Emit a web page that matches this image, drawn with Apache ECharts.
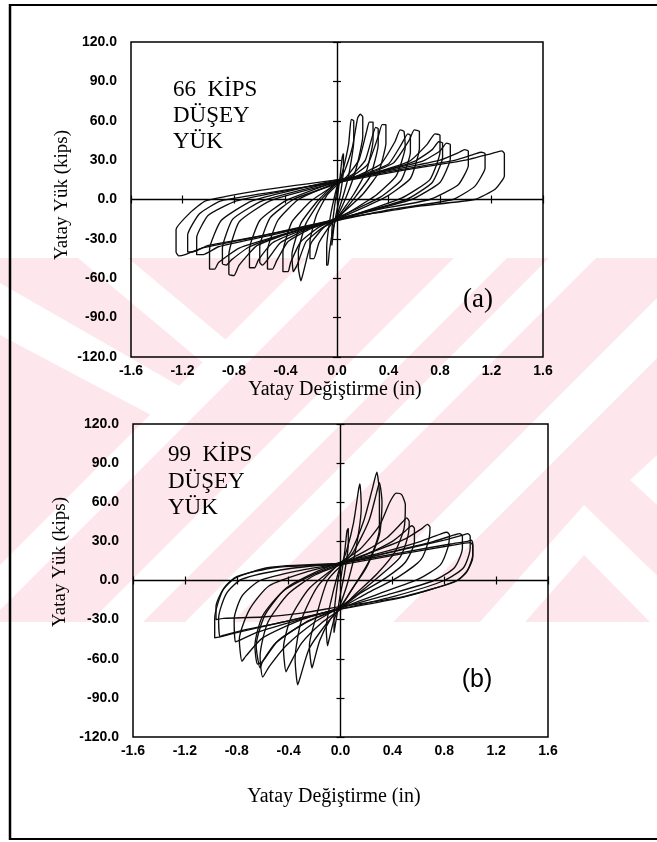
<!DOCTYPE html>
<html>
<head>
<meta charset="utf-8">
<script src="https://cdn.jsdelivr.net/npm/echarts@6/dist/echarts.min.js"></script>
<style>
  html, body { margin: 0; padding: 0; background: #fff; }
  #chart { width: 657px; height: 842px; }
</style>
</head>
<body>
<div id="chart"></div>
<script>
// Axis ranges shared by both panels
const xRange = [-1.6, 1.6];
const xStep = 0.4;
const yRange = [-120, 120];
const yStep = 30;

// Panel (a): 66 kips vertical load — one array per load cycle, [displacement (in), load (kips)]
const a66_c1 = [[0,0],[0.02,14],[0.04,32],[0.05,35],[0.05,24],[0.03,6],[0,-8],[-0.02,-18],[-0.04,-35],[-0.04,-24],[-0.02,-6],[0,8]];
const a66_c2 = [[0,8],[0.04,20],[0.09,42],[0.11,61],[0.13,60],[0.13,44],[0.09,18],[0.04,0],[0,-12],[-0.03,-22],[-0.06,-40],[-0.07,-50],[-0.08,-50],[-0.08,-36],[-0.05,-12],[-0.02,2],[0,10]];
const a66_c3 = [[0,10],[0.06,22],[0.12,40],[0.16,62],[0.18,65],[0.2,63],[0.2,48],[0.15,24],[0.08,4],[0,-13],[-0.07,-22],[-0.14,-33],[-0.18,-45],[-0.21,-45],[-0.21,-32],[-0.16,-12],[-0.08,3],[0,11]];
const a66_c4 = [[0,11],[0.08,18],[0.17,30],[0.23,52],[0.25,59],[0.28,59],[0.28,45],[0.23,22],[0.13,4],[0,-14],[-0.1,-21],[-0.2,-33],[-0.26,-55],[-0.28,-62],[-0.3,-52],[-0.3,-40],[-0.24,-18],[-0.13,-1],[0,13]];
const a66_c5 = [[0,13],[0.12,19],[0.22,30],[0.28,50],[0.3,55],[0.32,54],[0.32,42],[0.26,18],[0.15,3],[0,-15],[-0.12,-22],[-0.24,-32],[-0.31,-50],[-0.34,-55],[-0.35,-42],[-0.28,-18],[-0.15,-1],[0,14]];
const a66_c6 = [[0,12],[0.12,18],[0.24,27],[0.32,48],[0.35,57],[0.38,57],[0.38,43],[0.32,20],[0.2,4],[0,-14],[-0.14,-21],[-0.28,-32],[-0.36,-48],[-0.38,-55],[-0.42,-55],[-0.42,-40],[-0.35,-17],[-0.2,-1],[0,12]];
const a66_c7 = [[0,12],[0.18,19],[0.34,27],[0.45,44],[0.49,53],[0.52,52],[0.53,40],[0.46,18],[0.3,3],[0,-15],[-0.2,-22],[-0.38,-32],[-0.47,-47],[-0.5,-53],[-0.54,-53],[-0.54,-39],[-0.46,-16],[-0.3,0],[0,13]];
const a66_c8 = [[0,13],[0.2,19],[0.4,27],[0.5,42],[0.55,50],[0.57,49],[0.57,36],[0.5,15],[0.34,2],[0,-14],[-0.24,-23],[-0.44,-33],[-0.54,-46],[-0.58,-50],[-0.6,-48],[-0.6,-36],[-0.52,-14],[-0.34,0],[0,12]];
const a66_c9 = [[0,13],[0.22,19],[0.44,28],[0.56,45],[0.6,53],[0.64,52],[0.64,39],[0.57,16],[0.38,2],[0,-15],[-0.26,-23],[-0.5,-33],[-0.61,-46],[-0.64,-52],[-0.68,-52],[-0.68,-38],[-0.6,-16],[-0.4,-1],[0,14]];
const a66_c10 = [[0,14],[0.28,20],[0.56,29],[0.7,42],[0.76,50],[0.8,49],[0.8,36],[0.72,15],[0.5,1],[0,-16],[-0.32,-24],[-0.62,-35],[-0.76,-50],[-0.8,-58],[-0.84,-57],[-0.84,-42],[-0.76,-17],[-0.52,-1],[0,13]];
const a66_c11 = [[0,13],[0.3,20],[0.6,29],[0.74,38],[0.79,44],[0.82,43],[0.82,32],[0.74,13],[0.54,0],[0,-15],[-0.36,-25],[-0.68,-36],[-0.82,-46],[-0.86,-50],[-0.89,-49],[-0.89,-37],[-0.81,-15],[-0.58,-1],[0,14]];
const a66_c12 = [[0,14],[0.32,21],[0.66,29],[0.8,37],[0.85,43],[0.88,42],[0.88,31],[0.8,13],[0.58,0],[0,-15],[-0.4,-26],[-0.76,-37],[-0.92,-48],[-0.95,-53],[-0.99,-53],[-0.99,-38],[-0.9,-16],[-0.66,-1],[0,15]];
const a66_c13 = [[0,15],[0.4,22],[0.8,30],[0.95,36],[0.99,38],[1.02,37],[1.02,26],[0.94,11],[0.72,0],[0.3,-8],[0,-15],[-0.5,-27],[-0.92,-36],[-1.04,-42],[-1.09,-42],[-1.09,-29],[-1.0,-12],[-0.78,-1],[0,14]];
const a66_c14 = [[0,14],[0.45,22],[0.92,30],[1.08,35],[1.12,36],[1.15,35],[1.15,24],[1.07,10],[0.9,0],[0.4,-8],[0,-16],[-0.55,-27],[-1.0,-35],[-1.12,-40],[-1.16,-40],[-1.16,-27],[-1.07,-11],[-0.9,-1],[0,13]];
const a66_c15 = [[0,13],[0.5,22],[1.0,30],[1.2,35],[1.28,37],[1.3,35],[1.3,18],[1.23,8],[1.07,0],[0.64,-5],[0.32,-10],[0,-15],[-0.6,-28],[-1.05,-37],[-1.18,-42],[-1.23,-43],[-1.25,-40],[-1.25,-23],[-1.14,-10],[-1.02,-1],[-0.6,7],[0,15]];

// Panel (b): 99 kips vertical load
const b99_c1 = [[0,0],[0.03,20],[0.05,38],[0.06,40],[0.06,28],[0.03,5],[0,-10],[-0.02,-22],[-0.05,-40],[-0.05,-28],[-0.02,0],[0,10]];
const b99_c2 = [[0,10],[0.05,24],[0.1,44],[0.14,70],[0.15,74],[0.16,56],[0.12,25],[0.06,0],[0,-18],[-0.05,-30],[-0.09,-46],[-0.1,-50],[-0.11,-36],[-0.06,-10],[-0.02,5],[0,12]];
const b99_c3 = [[0,12],[0.08,22],[0.18,46],[0.25,72],[0.28,83],[0.3,66],[0.3,40],[0.22,15],[0.1,-5],[0,-20],[-0.08,-30],[-0.16,-46],[-0.21,-64],[-0.22,-67],[-0.24,-50],[-0.18,-25],[-0.1,0],[0,11]];
const b99_c4 = [[0,11],[0.1,22],[0.22,46],[0.28,68],[0.3,75],[0.32,60],[0.3,35],[0.2,10],[0.08,-8],[0,-21],[-0.1,-32],[-0.24,-52],[-0.31,-74],[-0.33,-80],[-0.35,-60],[-0.3,-30],[-0.18,-5],[0,14]];
const b99_c5 = [[0,14],[0.15,24],[0.3,42],[0.38,60],[0.43,67],[0.47,66],[0.5,58],[0.49,40],[0.42,22],[0.28,5],[0.12,-10],[0,-22],[-0.14,-32],[-0.3,-48],[-0.4,-66],[-0.42,-70],[-0.44,-52],[-0.38,-28],[-0.24,-6],[0,13]];
const b99_c6 = [[0,13],[0.18,22],[0.36,33],[0.48,45],[0.51,48],[0.53,45],[0.52,34],[0.46,18],[0.32,5],[0.15,-9],[0,-20],[-0.2,-32],[-0.42,-50],[-0.55,-66],[-0.6,-74],[-0.62,-58],[-0.56,-32],[-0.4,-10],[-0.2,4],[0,12]];
const b99_c7 = [[0,12],[0.2,20],[0.4,30],[0.5,38],[0.55,42],[0.57,40],[0.57,30],[0.5,14],[0.35,2],[0.15,-10],[0,-21],[-0.24,-31],[-0.48,-46],[-0.6,-62],[-0.64,-64],[-0.66,-50],[-0.6,-27],[-0.44,-8],[-0.2,5],[0,13]];
const b99_c8 = [[0,13],[0.22,21],[0.5,32],[0.63,40],[0.67,43],[0.69,41],[0.68,31],[0.62,16],[0.45,3],[0.2,-10],[0,-21],[-0.25,-31],[-0.5,-48],[-0.6,-62],[-0.62,-67],[-0.65,-50],[-0.58,-26],[-0.42,-6],[-0.2,6],[0,14]];
const b99_c9 = [[0,14],[0.3,21],[0.62,30],[0.78,36],[0.82,37],[0.84,35],[0.83,26],[0.77,12],[0.6,1],[0.3,-10],[0,-21],[-0.3,-30],[-0.6,-44],[-0.73,-58],[-0.76,-62],[-0.78,-45],[-0.7,-22],[-0.55,-4],[-0.25,7],[0,13]];
const b99_c10 = [[0,13],[0.35,21],[0.72,30],[0.88,35],[0.92,36],[0.94,34],[0.94,25],[0.88,10],[0.72,0],[0.36,-11],[0,-21],[-0.35,-31],[-0.65,-40],[-0.78,-46],[-0.81,-47],[-0.82,-30],[-0.76,-12],[-0.62,0],[-0.3,8],[0,13]];
const b99_c11 = [[0,13],[0.4,22],[0.8,31],[0.95,35],[0.98,36],[1.0,34],[1.0,25],[0.95,10],[0.8,0],[0.42,-12],[0,-22],[-0.4,-31],[-0.75,-38],[-0.9,-42],[-0.93,-43],[-0.94,-29],[-0.88,-10],[-0.76,1],[-0.4,9],[0,13]];
const b99_c12 = [[0,13],[0.45,21],[0.85,28],[0.98,30],[1.01,31],[1.02,28],[1.02,20],[0.98,8],[0.9,0],[0.48,-13],[0,-22],[-0.45,-32],[-0.8,-40],[-0.92,-43],[-0.97,-44],[-0.97,-29],[-0.91,-8],[-0.81,2],[-0.55,10],[0,13]];
const b99_c13 = [[0,12],[0.45,20],[0.86,27],[1.0,29],[1.02,27],[1.02,18],[0.97,6],[0.88,-1],[0.46,-13],[0,-20],[-0.3,-25],[-0.6,-28],[-0.9,-29],[-0.96,-30],[-0.96,-20],[-0.9,-6],[-0.8,3],[-0.5,10],[0,12]];

const cyclesA = [a66_c1, a66_c2, a66_c3, a66_c4, a66_c5, a66_c6, a66_c7, a66_c8, a66_c9, a66_c10, a66_c11, a66_c12, a66_c13, a66_c14, a66_c15];
const cyclesB = [b99_c1, b99_c2, b99_c3, b99_c4, b99_c5, b99_c6, b99_c7, b99_c8, b99_c9, b99_c10, b99_c11, b99_c12, b99_c13];

// Text
const yTitle = 'Yatay Yük (kips)';
const xTitle = 'Yatay Değiştirme (in)';
const noteA = ['66  KİPS', 'DÜŞEY', 'YÜK'];
const noteB = ['99  KİPS', 'DÜŞEY', 'YÜK'];

const chart = echarts.init(document.getElementById('chart'), null, { renderer: 'canvas' });

const INK = '#0d0d0d';
const tickFont = { fontFamily: 'Liberation Sans, Arial, sans-serif', fontWeight: 'bold', fontSize: 14, color: '#000' };

function xAxisPair(gi) {
  const base = {
    gridIndex: gi, type: 'value', min: xRange[0], max: xRange[1], interval: xStep,
    axisLine: { show: false }, splitLine: { show: false },
    axisTick: { show: true, inside: true, length: 4, lineStyle: { color: '#000', width: 1.2 } }
  };
  return [
    Object.assign({}, base, { position: 'bottom', axisLabel: Object.assign({ margin: 7, formatter: v => v.toFixed(1) }, tickFont) }),
    Object.assign({}, base, { position: 'top', axisLabel: { show: false } })
  ];
}
function yAxisPair(gi) {
  const base = {
    gridIndex: gi, type: 'value', min: yRange[0], max: yRange[1], interval: yStep,
    axisLine: { show: false }, splitLine: { show: false },
    axisTick: { show: true, inside: true, length: 4, lineStyle: { color: '#000', width: 1.2 } }
  };
  return [
    Object.assign({}, base, { position: 'left', axisLabel: Object.assign({ margin: 14, formatter: v => v.toFixed(1) }, tickFont) }),
    Object.assign({}, base, { position: 'right', axisLabel: { show: false } })
  ];
}

function loopSeries(cycles, axisIdx, smooth) {
  return cycles.map((d, i) => {
    const s = {
      type: 'line', data: d, xAxisIndex: axisIdx, yAxisIndex: axisIdx,
      symbol: 'none', smooth: smooth, silent: true, animation: false,
      lineStyle: { color: INK, width: 1.35 }, z: 3
    };
    if (i === 0) {
      s.markLine = {
        silent: true, symbol: 'none', animation: false,
        label: { show: false },
        lineStyle: { color: '#000', width: 1.4, type: 'solid' },
        data: [{ xAxis: 0 }, { yAxis: 0 }]
      };
    }
    return s;
  });
}

// Faint pink diagonal watermark band behind the page
const PINK = '#fde7ec';
const band = { y0: 258, y1: 622 };
const whiteStripes = [
  [[78,258],[128,258],[250,360],[226,382]],
  [[0,283],[0,335],[170,425],[195,395]],
  [[307,258],[352,258],[-12,622],[-57,622]],
  [[454,258],[507,258],[143,622],[90,622]],
  [[549,258],[596,258],[232,622],[185,622]],
  [[697,258],[757,258],[393,622],[333,622]],
  [[480,622],[584,505],[705,622],[650,622],[584,555],[525,622]],
  [[657,455],[630,480],[657,505]]
];
const watermark = [{
  type: 'rect', silent: true, z: -100,
  shape: { x: 0, y: band.y0, width: 657, height: band.y1 - band.y0 },
  style: { fill: PINK }
}].concat(whiteStripes.map(pts => ({
  type: 'polygon', silent: true, z: -99, shape: { points: pts }, style: { fill: '#fff' }
})));

const serif = 'Liberation Serif, Times New Roman, serif';
function txt(text, x, y, font, align) {
  return {
    type: 'text', silent: true, z: 10,
    style: { text: text, x: x, y: y, font: font, fill: '#000', textAlign: align || 'left', textVerticalAlign: 'middle', verticalAlign: 'middle' }
  };
}
function rotTitle(text, cx, cy) {
  return {
    type: 'text', silent: true, z: 10, x: cx, y: cy, rotation: Math.PI / 2,
    style: { text: text, x: 0, y: 0, font: '19px ' + serif, fill: '#000', textAlign: 'center', textVerticalAlign: 'middle', verticalAlign: 'middle' }
  };
}

const frame = [
  { type: 'line', silent: true, z: 10, shape: { x1: 10, y1: 4, x2: 10, y2: 840 }, style: { stroke: '#000', lineWidth: 2.5 } },
  { type: 'line', silent: true, z: 10, shape: { x1: 9, y1: 5, x2: 657, y2: 5 }, style: { stroke: '#000', lineWidth: 2 } },
  { type: 'line', silent: true, z: 10, shape: { x1: 9, y1: 839, x2: 657, y2: 839 }, style: { stroke: '#000', lineWidth: 2 } }
];

const texts = [
  rotTitle(yTitle, 62, 195),
  rotTitle(yTitle, 60, 562),
  txt(xTitle, 335, 390, '20px ' + serif, 'center'),
  txt(xTitle, 334, 797, '20px ' + serif, 'center'),
  txt(noteA[0], 173, 90, '23px ' + serif),
  txt(noteA[1], 173, 116, '23px ' + serif),
  txt(noteA[2], 173, 142, '23px ' + serif),
  txt(noteB[0], 168, 455, '23px ' + serif),
  txt(noteB[1], 168, 482, '23px ' + serif),
  txt(noteB[2], 168, 508, '23px ' + serif),
  txt('(a)', 478, 300, '27px ' + serif, 'center'),
  txt('(b)', 477, 680, '25px Liberation Sans, Arial, sans-serif', 'center')
];

const option = {
  backgroundColor: '#fff',
  animation: false,
  grid: [
    { left: 131, top: 42, width: 412, height: 315, show: true, borderColor: '#000', borderWidth: 1.5, backgroundColor: 'transparent' },
    { left: 133, top: 424, width: 415, height: 313, show: true, borderColor: '#000', borderWidth: 1.5, backgroundColor: 'transparent' }
  ],
  xAxis: xAxisPair(0).concat(xAxisPair(1)).map((a, i) => Object.assign(a, { gridIndex: i < 2 ? 0 : 1 })),
  yAxis: yAxisPair(0).concat(yAxisPair(1)).map((a, i) => Object.assign(a, { gridIndex: i < 2 ? 0 : 1 })),
  series: loopSeries(cyclesA, 0, 0.15).concat(loopSeries(cyclesB, 2, 0.22)),
  graphic: watermark.concat(frame, texts)
};

chart.setOption(option);
</script>
</body>
</html>
